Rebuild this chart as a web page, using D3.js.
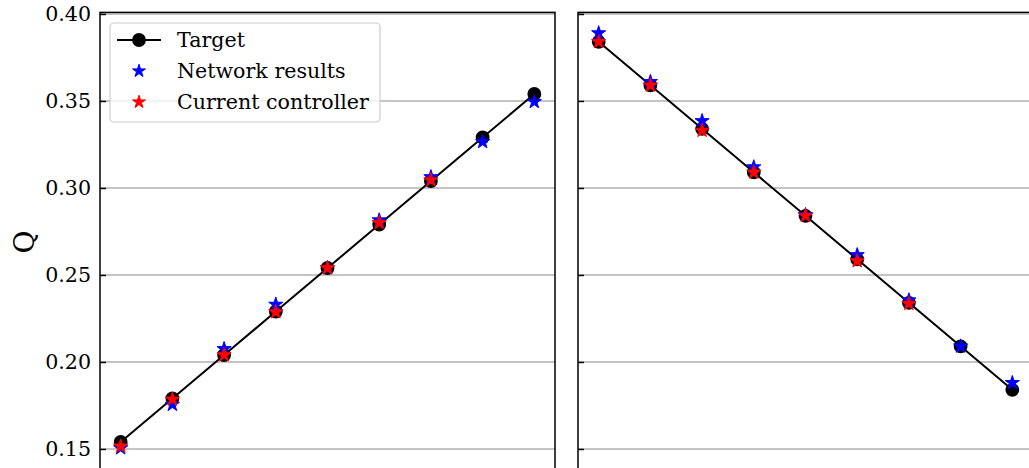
<!DOCTYPE html>
<html>
<head>
<meta charset="utf-8">
<script src="https://cdn.jsdelivr.net/npm/d3@7"></script>
<style>
  html, body { margin: 0; padding: 0; background: #fff; }
  svg { display: block; }
  text { font-family: "DejaVu Serif", serif; fill: #000; }
</style>
</head>
<body>
<svg id="chart" width="1029" height="468"></svg>
<script>
// Step index along each sweep
const steps = [0, 1, 2, 3, 4, 5, 6, 7, 8];

// Left panel: rising sweep
const targetUp     = [0.154, 0.179, 0.204, 0.229, 0.254, 0.279, 0.304, 0.329, 0.354];
const networkUp    = [0.1505, 0.1755, 0.2075, 0.2330, 0.2540, 0.2815, 0.3063, 0.3265, 0.3495];
const controllerUp = [0.1515, 0.1785, 0.2040, 0.2287, 0.2540, 0.2800, 0.3045, null, null];

// Right panel: falling sweep
const targetDown     = [0.384, 0.359, 0.334, 0.309, 0.284, 0.259, 0.234, 0.209, 0.184];
const networkDown    = [0.3890, 0.3610, 0.3385, 0.3120, 0.2845, 0.2615, 0.2355, 0.2090, 0.1880];
const controllerDown = [0.3840, 0.3590, 0.3330, 0.3090, 0.2840, 0.2580, 0.2335, null, null];

const yTicks = [0.15, 0.20, 0.25, 0.30, 0.35, 0.40];
const yLabel = "Q";
const legendLabels = ["Target", "Network results", "Current controller"];

const colTarget = "#000000";
const colNetwork = "#0000ff";
const colController = "#ff0000";

const svg = d3.select("#chart");

const panelW = 455;
const yTop = 12.4, yBottom = 468.8;
const y = d3.scaleLinear().domain([0.1386, 0.4009]).range([yBottom, yTop]);

const panels = [
  { left: 100, target: targetUp, network: networkUp, controller: controllerUp, labels: true, legend: true },
  { left: 578, target: targetDown, network: networkDown, controller: controllerDown, labels: false, legend: false }
];

const starPath = d3.symbol().type(d3.symbolStar).size(62)();
const legendStar = d3.symbol().type(d3.symbolStar).size(52)();
const circlePath = d3.symbol().type(d3.symbolCircle).size(150)();

panels.forEach(p => {
  const x = d3.scaleLinear().domain([-0.4, 8.4]).range([p.left, p.left + panelW]);
  const g = svg.append("g");

  // horizontal grid
  g.selectAll(".grid").data(yTicks).join("line")
    .attr("x1", p.left).attr("x2", p.left + panelW)
    .attr("y1", d => y(d)).attr("y2", d => y(d))
    .attr("stroke", "#b0b0b0").attr("stroke-width", 1.4);

  // target line + markers
  const line = d3.line().x((d, i) => x(steps[i])).y(d => y(d));
  g.append("path").datum(p.target).attr("d", line)
    .attr("fill", "none").attr("stroke", colTarget).attr("stroke-width", 2);
  g.selectAll(".tgt").data(p.target).join("path")
    .attr("d", circlePath)
    .attr("transform", (d, i) => `translate(${x(steps[i])},${y(d)})`)
    .attr("fill", colTarget);

  // network results
  g.selectAll(".net").data(p.network.map((v, i) => [steps[i], v]).filter(d => d[1] != null)).join("path")
    .attr("d", starPath)
    .attr("transform", d => `translate(${x(d[0])},${y(d[1])})`)
    .attr("fill", colNetwork).attr("stroke", colNetwork).attr("stroke-width", 1);

  // current controller
  g.selectAll(".ctl").data(p.controller.map((v, i) => [steps[i], v]).filter(d => d[1] != null)).join("path")
    .attr("d", starPath)
    .attr("transform", d => `translate(${x(d[0])},${y(d[1])})`)
    .attr("fill", colController).attr("stroke", colController).attr("stroke-width", 1);

  // spines
  g.append("rect")
    .attr("x", p.left).attr("y", yTop)
    .attr("width", panelW).attr("height", yBottom - yTop + 20)
    .attr("fill", "none").attr("stroke", "#000").attr("stroke-width", 1.5);

  // inward y ticks
  const axis = d3.axisLeft(y).tickValues(yTicks).tickSizeInner(-6).tickSizeOuter(0)
    .tickFormat(p.labels ? d3.format(".2f") : () => "");
  const ax = g.append("g").attr("transform", `translate(${p.left},0)`).call(axis);
  ax.select(".domain").remove();
  ax.selectAll(".tick line").attr("stroke", "#000").attr("stroke-width", 1.5);
  ax.selectAll(".tick text")
    .attr("x", -9).attr("dy", "0.34em")
    .style("font-family", "DejaVu Serif").style("font-size", "20.6px");

  if (p.legend) {
    const lg = svg.append("g");
    lg.append("rect")
      .attr("x", 110).attr("y", 23).attr("width", 270).attr("height", 99)
      .attr("rx", 4).attr("fill", "rgba(255,255,255,0.8)")
      .attr("stroke", "#cccccc").attr("stroke-width", 1.2);
    const rows = [40, 71, 102];
    // Target handle
    lg.append("line").attr("x1", 117).attr("x2", 161).attr("y1", rows[0]).attr("y2", rows[0])
      .attr("stroke", colTarget).attr("stroke-width", 2);
    lg.append("path").attr("d", circlePath).attr("transform", `translate(139,${rows[0]})`).attr("fill", colTarget);
    lg.append("path").attr("d", legendStar).attr("transform", `translate(139,${rows[1]})`)
      .attr("fill", colNetwork).attr("stroke", colNetwork).attr("stroke-width", 1);
    lg.append("path").attr("d", legendStar).attr("transform", `translate(139,${rows[2]})`)
      .attr("fill", colController).attr("stroke", colController).attr("stroke-width", 1);
    lg.selectAll(".lt").data(legendLabels).join("text")
      .attr("x", 177).attr("y", (d, i) => rows[i]).attr("dy", "0.35em")
      .style("font-size", "20.6px").text(d => d);
  }
});

// y axis label
svg.append("text")
  .attr("transform", "translate(24,242) rotate(-90)")
  .attr("text-anchor", "middle").attr("dy", "0.35em")
  .style("font-size", "28px").text(yLabel);
</script>
</body>
</html>
